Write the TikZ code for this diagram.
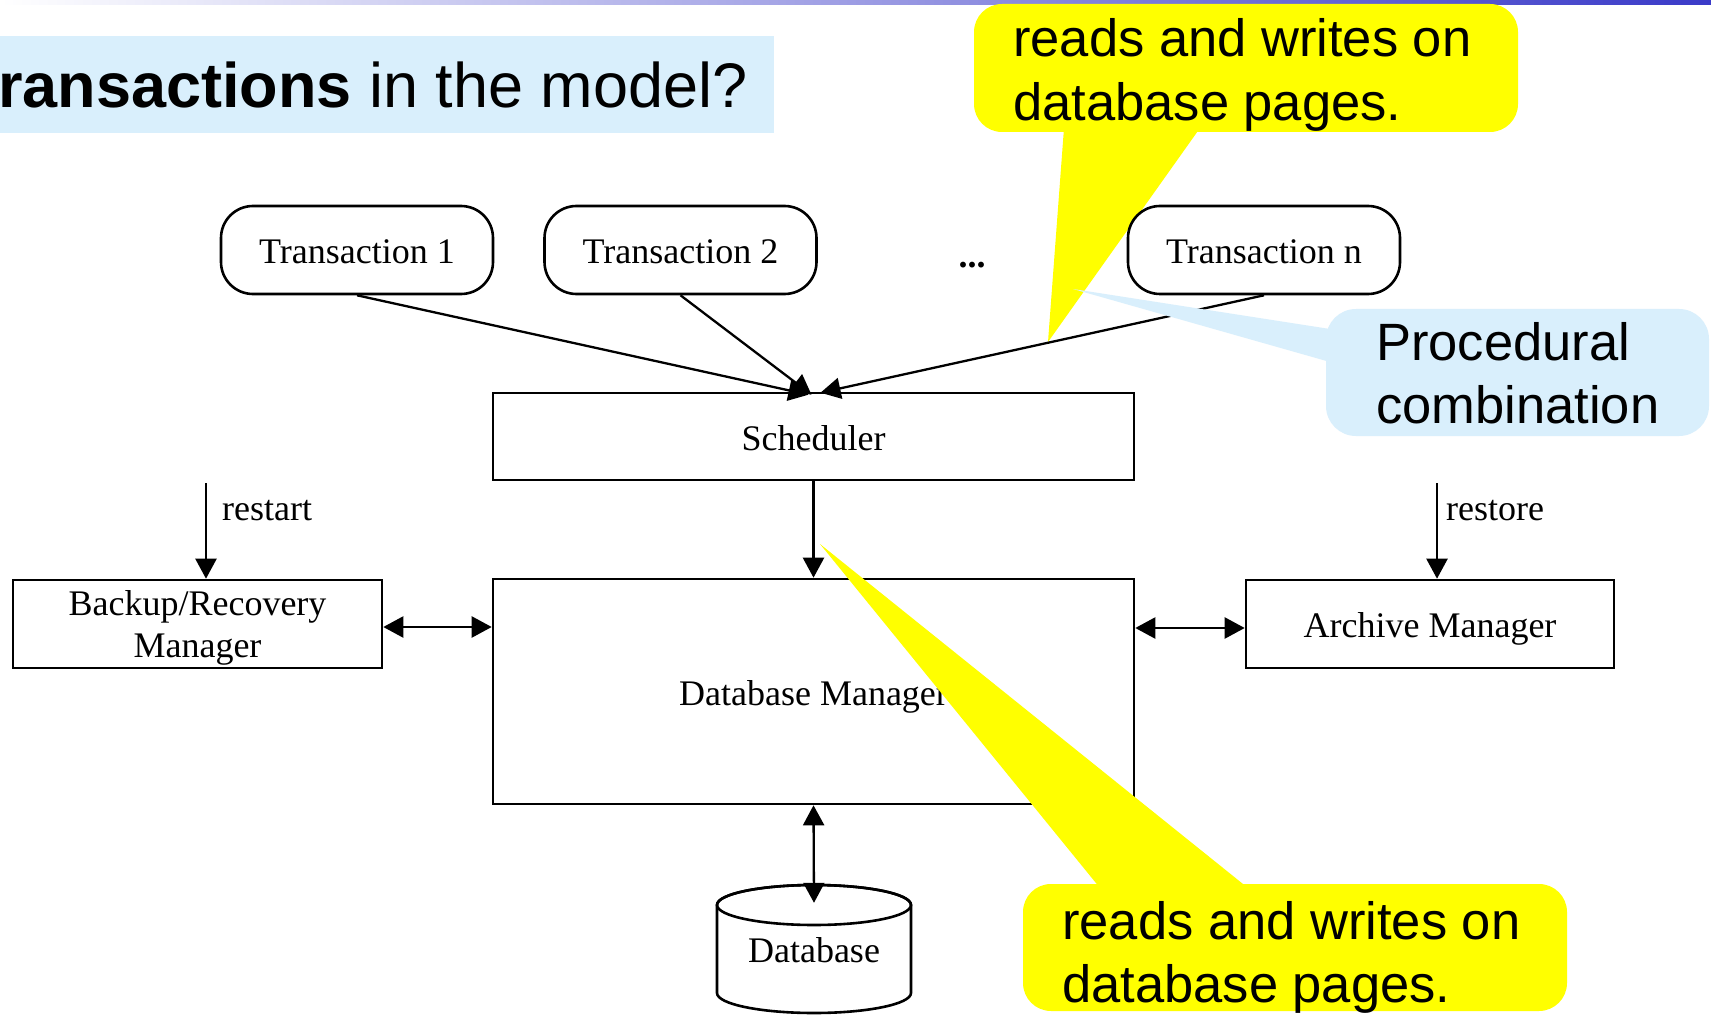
\documentclass[tikz,border=0pt]{standalone}
\usepackage{fontspec}
\setmainfont{Liberation Serif}
\newfontfamily\arialf{Liberation Sans}
\usetikzlibrary{arrows.meta}
\definecolor{callblue}{RGB}{217,239,252}
\definecolor{barmid}{RGB}{190,190,232}
\definecolor{barend}{RGB}{58,58,200}
\definecolor{callyellow}{RGB}{255,255,0}
\begin{document}
\begin{tikzpicture}[x=1pt,y=-1pt,
  box/.style={draw, line width=2.6pt, fill=white, inner sep=0pt, text depth=0pt, font=\fontsize{36}{42}\selectfont},
  oneline/.style={text height=27pt},
  tbox/.style={box, oneline, rounded corners=32pt, minimum width=272pt, minimum height=88pt},
  arr/.style={line width=2.3pt, -{Triangle[length=20pt,width=21pt]}},
  darr/.style={line width=2.3pt, {Triangle[length=20pt,width=21pt]}-{Triangle[length=20pt,width=21pt]}},
  lbl/.style={inner sep=0pt, anchor=base west, font=\fontsize{36}{43}\selectfont},
  calltext/.style={inner sep=0pt, anchor=base west, font=\arialf\fontsize{52.5}{64}\selectfont}]
\useasboundingbox (0,0) rectangle (1711,1016);
\fill[white] (0,0) rectangle (1711,1016);
% top bar and title
\shade[left color=white, middle color=barmid, right color=barend] (0,0) rectangle (1711,5);
\fill[callblue] (0,36) rectangle (774,133);
\node[inner sep=0pt, anchor=base west, font=\arialf\fontsize{63}{70}\selectfont] (title) at (-2,108) {\textbf{ransactions} in the model?};
% top yellow callout
\fill[callyellow] (1064,128) -- (1200,128) -- (1048,342) -- cycle;
\fill[callyellow, rounded corners=28pt] (974,4) rectangle (1518,132);
\node[calltext] (y1a) at (1013,57) {reads and writes on};
\node[calltext] (y1b) at (1013,121) {database pages.};
% diagram
\node[tbox] (t1) at (357,250) {Transaction 1};
\node[tbox] (t2) at (680.5,250) {Transaction 2};
\node[tbox] (tn) at (1264,250) {Transaction n};
\node[inner sep=0pt, anchor=base, font=\bfseries\fontsize{36}{43}\selectfont] (dots) at (972,268) {...};
\node[box, oneline, minimum width=641pt, minimum height=87pt] (sched) at (813.5,436.5) {Scheduler};
\node[box, oneline, minimum width=641pt, minimum height=225pt] (dbm) at (813.5,691.5) {Database Manager};
\node[box, minimum width=369pt, minimum height=88pt, align=center] (backup) at (197.5,624) {Backup/Recovery\\Manager};
\node[box, oneline, minimum width=368pt, minimum height=88pt] (arch) at (1430,624) {Archive Manager};
% database cylinder
\filldraw[fill=white, line width=2.6pt] (717,905) -- (717,993)
  arc[start angle=180, end angle=0, x radius=97, y radius=20] -- (911,905)
  arc[start angle=0, end angle=-180, x radius=97, y radius=20] -- cycle;
\draw[line width=2.6pt] (814,905) ellipse[x radius=97, y radius=20];
\node[inner sep=0pt, minimum width=194pt, minimum height=128pt, font=\fontsize{36}{43}\selectfont] (db) at (814,950) {Database};
% connectors
\draw[arr] (t1.south) -- ([xshift=-5pt,yshift=-3pt]sched.north);
\draw[arr] (t2.south) -- ([xshift=-2pt,yshift=-3pt]sched.north);
\draw[arr] (tn.south) -- ([xshift=7pt,yshift=-1pt]sched.north);
\draw[arr] (sched.south) -- (dbm.north);
\coordinate (rs) at (206,483);
\coordinate (ro) at (1437,483);
\draw[arr] (rs) -- (rs |- backup.north);
\draw[arr] (ro) -- (ro |- arch.north);
\node[lbl] (restart) at (222,520) {restart};
\node[lbl] (restore) at (1446,520) {restore};
\draw[darr] ([yshift=-3pt]backup.east) -- ([yshift=-3pt]backup.east -| dbm.west);
\draw[darr] ([yshift=-4pt]arch.west -| dbm.east) -- ([yshift=-4pt]arch.west);
\draw[darr] (dbm.south) -- ([yshift=-17pt]db.north);
% blue callout
\fill[callblue] (1330,329) -- (1330,362) -- (1073,289) -- cycle;
\fill[callblue, rounded corners=30pt] (1326,309) rectangle (1709,436);
\node[calltext] (b1) at (1376,360) {Procedural};
\node[calltext] (b2) at (1376,423) {combination};
% lower yellow callout
\fill[callyellow] (1100,888) -- (1248,888) -- (820,544) -- cycle;
\fill[callyellow, rounded corners=28pt] (1023,884) rectangle (1567,1011);
\node[calltext] (y2a) at (1062,939) {reads and writes on};
\node[calltext] (y2b) at (1062,1002) {database pages.};
\end{tikzpicture}
\end{document}
